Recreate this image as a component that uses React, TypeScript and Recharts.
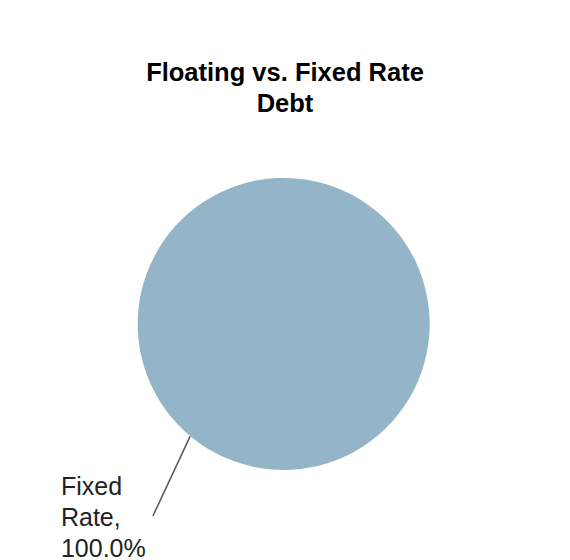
import { PieChart, Pie, Cell } from "recharts";

const categories = ["Fixed Rate"];
const shares = [100];
const sliceColors = ["#94b5c8"];

const data = categories.map((name, i) => ({ name, value: shares[i] }));

const RAD = Math.PI / 180;

function polar(cx: number, cy: number, r: number, angle: number) {
  return { x: cx + r * Math.cos(-angle * RAD), y: cy + r * Math.sin(-angle * RAD) };
}

// leader line bends a little away from the radial direction, like the original
function leaderEnd(props: any) {
  const { cx, cy, outerRadius, midAngle } = props;
  return polar(cx, cy, outerRadius + 86, midAngle + 6);
}

function renderLabelLine(props: any) {
  const { cx, cy, outerRadius, midAngle } = props;
  const s = polar(cx, cy, outerRadius, midAngle);
  const e = leaderEnd(props);
  return <line x1={s.x} y1={s.y} x2={e.x} y2={e.y} stroke="#555" strokeWidth={1.5} />;
}

function renderLabel(props: any) {
  const { name, percent } = props;
  const e = leaderEnd(props);
  const words = String(name).split(" ");
  const lines = [words[0], words.slice(1).join(" ") + ",", (percent * 100).toFixed(1) + "%"];
  const x = e.x - 92;
  return (
    <text
      x={x}
      y={e.y - 21}
      fill="#222"
      fontSize={25}
      fontFamily="'Liberation Sans', Arial, sans-serif"
      textAnchor="start"
    >
      {lines.map((t, i) => (
        <tspan key={i} x={x} dy={i === 0 ? 0 : 31}>
          {t}
        </tspan>
      ))}
    </text>
  );
}

export default function App() {
  return (
    <div style={{ position: "absolute", left: 0, top: 0, width: 570, height: 560, background: "#fff", overflow: "hidden" }}>
      <div
        style={{
          position: "absolute",
          top: 57,
          left: 0,
          width: 570,
          textAlign: "center",
          fontFamily: "'Liberation Sans', Arial, sans-serif",
          fontWeight: "bold",
          fontSize: 25.5,
          lineHeight: "31px",
          color: "#000",
        }}
      >
        Floating vs. Fixed Rate
        <br />
        Debt
      </div>
      <PieChart width={570} height={560} margin={{ top: 0, right: 0, bottom: 0, left: 0 }}>
        <Pie
          data={data}
          dataKey="value"
          nameKey="name"
          cx={286}
          cy={326}
          outerRadius={146}
          startAngle={49}
          endAngle={409}
          stroke="none"
          label={renderLabel}
          labelLine={renderLabelLine}
          isAnimationActive={false}
        >
          {data.map((d, i) => (
            <Cell key={d.name} fill={sliceColors[i]} />
          ))}
        </Pie>
      </PieChart>
    </div>
  );
}
